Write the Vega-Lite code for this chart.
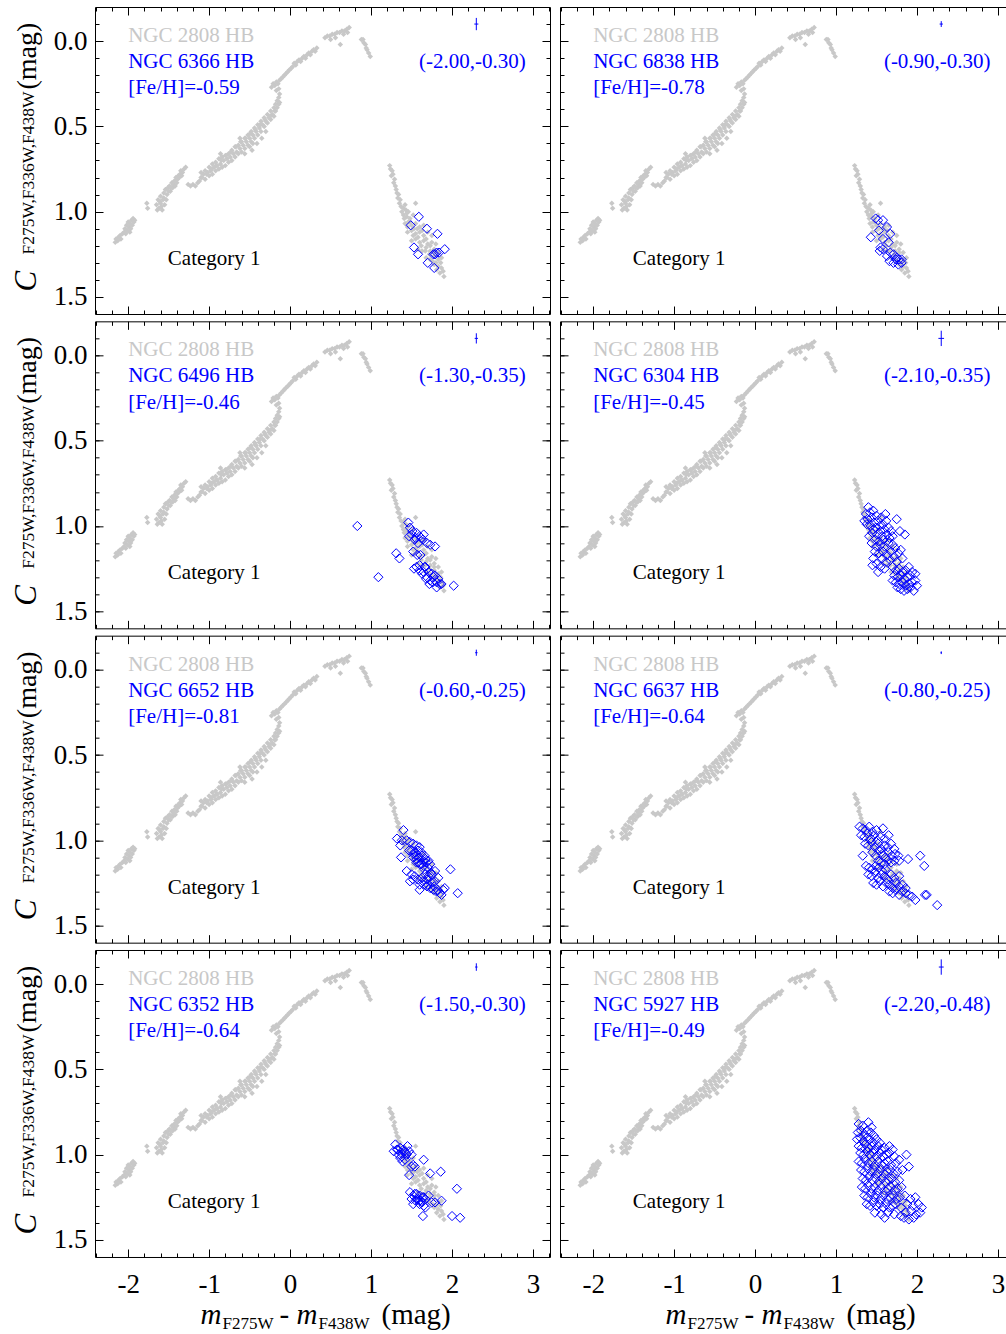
{
"$schema":"https://vega.github.io/schema/vega-lite/v6.json",
"background":"white",
"autosize":{"type":"pad"},
"padding":{"left":10,"top":6,"right":0,"bottom":0},
"columns":2,
"spacing":{"row":5.33,"column":8},
"align":"each",
"datasets":{
"hb2808":[
{"x":-2.16,"y":1.18},{"x":-2.15,"y":1.16},{"x":-2.13,"y":1.17},{"x":-2.12,"y":1.15},{"x":-2.10,"y":1.14},{"x":-2.09,"y":1.16},{"x":-2.07,"y":1.13},{"x":-2.05,"y":1.12},{"x":-2.04,"y":1.10},{"x":-2.03,"y":1.13},{"x":-2.02,"y":1.08},{"x":-2.01,"y":1.11},{"x":-2.00,"y":1.06},{"x":-1.99,"y":1.09},{"x":-1.98,"y":1.07},{"x":-1.97,"y":1.10},{"x":-1.96,"y":1.05},{"x":-1.95,"y":1.08},{"x":-1.94,"y":1.04},{"x":-1.93,"y":1.06},{"x":-1.92,"y":1.05},{"x":-1.98,"y":1.12},
{"x":-1.77,"y":0.95},{"x":-1.76,"y":0.98},
{"x":-1.65,"y":0.96},{"x":-1.63,"y":0.93},{"x":-1.62,"y":0.98},{"x":-1.60,"y":0.95},{"x":-1.60,"y":0.91},{"x":-1.58,"y":0.99},{"x":-1.57,"y":0.93},{"x":-1.56,"y":0.89},{"x":-1.55,"y":0.96},{"x":-1.54,"y":0.87},{"x":-1.52,"y":0.90},{"x":-1.51,"y":0.86},{"x":-1.49,"y":0.85},{"x":-1.48,"y":0.88},{"x":-1.46,"y":0.83},{"x":-1.45,"y":0.86},{"x":-1.43,"y":0.82},{"x":-1.41,"y":0.80},{"x":-1.40,"y":0.83},{"x":-1.38,"y":0.79},{"x":-1.36,"y":0.78},{"x":-1.35,"y":0.76},{"x":-1.33,"y":0.77},{"x":-1.31,"y":0.75},{"x":-1.29,"y":0.74},
{"x":-1.64,"y":0.99},{"x":-1.61,"y":0.94},{"x":-1.59,"y":0.97},{"x":-1.56,"y":0.92},{"x":-1.53,"y":0.93},{"x":-1.50,"y":0.88},{"x":-1.47,"y":0.86},{"x":-1.44,"y":0.84},{"x":-1.42,"y":0.85},{"x":-1.39,"y":0.81},{"x":-1.37,"y":0.80},{"x":-1.34,"y":0.79},
{"x":-1.26,"y":0.84},{"x":-1.23,"y":0.85},{"x":-1.20,"y":0.84},{"x":-1.17,"y":0.85},{"x":-1.14,"y":0.83},{"x":-1.12,"y":0.82},
{"x":-1.10,"y":0.80},{"x":-1.10,"y":0.77},{"x":-1.07,"y":0.78},{"x":-1.05,"y":0.81},{"x":-1.05,"y":0.76},{"x":-1.02,"y":0.77},{"x":-1.00,"y":0.79},{"x":-1.00,"y":0.74},{"x":-0.98,"y":0.76},{"x":-0.96,"y":0.72},{"x":-0.96,"y":0.78},{"x":-0.94,"y":0.74},{"x":-0.92,"y":0.71},{"x":-0.92,"y":0.76},{"x":-0.90,"y":0.73},{"x":-0.88,"y":0.69},{"x":-0.88,"y":0.75},{"x":-0.86,"y":0.72},{"x":-0.84,"y":0.68},{"x":-0.84,"y":0.74},{"x":-0.82,"y":0.70},{"x":-0.80,"y":0.67},{"x":-0.80,"y":0.73},{"x":-0.78,"y":0.69},{"x":-0.76,"y":0.66},{"x":-0.76,"y":0.71},{"x":-0.74,"y":0.68},{"x":-0.72,"y":0.64},{"x":-0.72,"y":0.70},{"x":-0.70,"y":0.66},{"x":-0.68,"y":0.62},{"x":-0.68,"y":0.68},{"x":-0.66,"y":0.65},{"x":-0.64,"y":0.61},{"x":-0.64,"y":0.66},{"x":-0.62,"y":0.63},{"x":-0.60,"y":0.59},{"x":-0.60,"y":0.65},{"x":-0.58,"y":0.61},{"x":-0.56,"y":0.57},{"x":-0.56,"y":0.63},{"x":-0.56,"y":0.66},{"x":-0.54,"y":0.59},{"x":-0.52,"y":0.55},{"x":-0.52,"y":0.61},{"x":-0.50,"y":0.57},{"x":-0.50,"y":0.62},{"x":-0.48,"y":0.53},{"x":-0.48,"y":0.59},{"x":-0.46,"y":0.55},{"x":-0.46,"y":0.60},{"x":-0.44,"y":0.51},{"x":-0.44,"y":0.57},{"x":-0.42,"y":0.53},{"x":-0.40,"y":0.49},{"x":-0.40,"y":0.55},{"x":-0.38,"y":0.51},{"x":-0.36,"y":0.47},{"x":-0.36,"y":0.53},{"x":-0.34,"y":0.49},{"x":-0.32,"y":0.45},{"x":-0.32,"y":0.50},{"x":-0.30,"y":0.47},{"x":-0.28,"y":0.43},{"x":-0.28,"y":0.48},{"x":-0.26,"y":0.45},{"x":-0.24,"y":0.41},{"x":-0.24,"y":0.46},{"x":-0.22,"y":0.43},{"x":-0.20,"y":0.39},{"x":-0.20,"y":0.44},{"x":-0.18,"y":0.41},{"x":-0.18,"y":0.37},{"x":-0.16,"y":0.39},{"x":-0.16,"y":0.35},{"x":-0.14,"y":0.37},{"x":-0.14,"y":0.33},{"x":-0.13,"y":0.31},{"x":-0.13,"y":0.36},
{"x":-1.09,"y":0.80},{"x":-1.03,"y":0.78},{"x":-0.97,"y":0.75},{"x":-0.91,"y":0.73},{"x":-0.85,"y":0.70},{"x":-0.79,"y":0.67},{"x":-0.73,"y":0.65},{"x":-0.67,"y":0.62},{"x":-0.61,"y":0.59},{"x":-0.55,"y":0.57},{"x":-0.49,"y":0.54},{"x":-0.43,"y":0.52},{"x":-0.37,"y":0.49},{"x":-0.31,"y":0.46},{"x":-0.25,"y":0.44},{"x":-0.19,"y":0.41},
{"x":-0.47,"y":0.64},{"x":-0.41,"y":0.60},{"x":-0.35,"y":0.57},{"x":-0.30,"y":0.53},{"x":-0.62,"y":0.57},{"x":-0.86,"y":0.66},
{"x":-0.17,"y":0.29},{"x":-0.14,"y":0.28},
{"x":-0.23,"y":0.27},{"x":-0.21,"y":0.25},{"x":-0.19,"y":0.26},{"x":-0.17,"y":0.24},{"x":-0.15,"y":0.25},{"x":-0.13,"y":0.23},{"x":-0.11,"y":0.22},{"x":-0.09,"y":0.21},{"x":-0.07,"y":0.20},{"x":-0.05,"y":0.19},{"x":-0.03,"y":0.18},{"x":-0.01,"y":0.17},{"x":0.01,"y":0.16},{"x":0.03,"y":0.15},{"x":0.05,"y":0.13},{"x":0.07,"y":0.14},{"x":0.09,"y":0.12},{"x":0.11,"y":0.11},{"x":0.13,"y":0.12},{"x":0.15,"y":0.10},{"x":0.17,"y":0.09},{"x":0.19,"y":0.10},{"x":0.21,"y":0.08},{"x":0.23,"y":0.07},{"x":0.25,"y":0.08},{"x":0.27,"y":0.06},{"x":0.29,"y":0.05},{"x":0.31,"y":0.06},{"x":0.33,"y":0.04},
{"x":0.43,"y":-0.02},{"x":0.46,"y":-0.03},{"x":0.49,"y":-0.03},{"x":0.52,"y":-0.04},{"x":0.55,"y":-0.04},{"x":0.58,"y":-0.05},{"x":0.61,"y":-0.05},{"x":0.64,"y":-0.06},{"x":0.67,"y":-0.06},{"x":0.70,"y":-0.07},{"x":0.73,"y":-0.08},{"x":0.50,"y":-0.01},{"x":0.56,"y":-0.02},{"x":0.62,"y":0.02},{"x":0.66,"y":-0.04},{"x":0.71,"y":-0.05},
{"x":0.88,"y":-0.01},{"x":0.90,"y":-0.01},{"x":0.91,"y":0.01},{"x":0.93,"y":0.02},{"x":0.94,"y":0.04},{"x":0.95,"y":0.05},{"x":0.99,"y":0.09},{"x":0.97,"y":0.07},
{"x":1.23,"y":0.73},{"x":1.24,"y":0.75},{"x":1.26,"y":0.76},{"x":1.27,"y":0.78},{"x":1.29,"y":0.81},{"x":1.30,"y":0.85},{"x":1.32,"y":0.89},{"x":1.33,"y":0.92},{"x":1.35,"y":0.95},{"x":1.37,"y":0.97},{"x":1.42,"y":0.96},{"x":1.38,"y":1.00},
{"x":1.40,"y":0.98},{"x":1.43,"y":0.99},{"x":1.46,"y":1.00},{"x":1.55,"y":0.95},{"x":1.40,"y":1.02},{"x":1.44,"y":1.03},{"x":1.48,"y":1.04},{"x":1.52,"y":1.02},{"x":1.42,"y":1.07},{"x":1.46,"y":1.06},{"x":1.50,"y":1.08},{"x":1.55,"y":1.07},{"x":1.60,"y":1.09},{"x":1.65,"y":1.08},{"x":1.45,"y":1.12},{"x":1.50,"y":1.11},{"x":1.55,"y":1.13},{"x":1.60,"y":1.12},{"x":1.65,"y":1.14},{"x":1.70,"y":1.12},{"x":1.75,"y":1.14},{"x":1.50,"y":1.17},{"x":1.55,"y":1.16},{"x":1.60,"y":1.18},{"x":1.65,"y":1.17},{"x":1.70,"y":1.19},{"x":1.75,"y":1.18},{"x":1.80,"y":1.19},{"x":1.58,"y":1.22},{"x":1.63,"y":1.23},{"x":1.68,"y":1.21},{"x":1.73,"y":1.23},{"x":1.78,"y":1.22},{"x":1.83,"y":1.24},{"x":1.68,"y":1.27},{"x":1.73,"y":1.28},{"x":1.78,"y":1.26},{"x":1.83,"y":1.28},{"x":1.87,"y":1.27},{"x":1.78,"y":1.31},{"x":1.83,"y":1.32},{"x":1.87,"y":1.33},{"x":1.85,"y":1.36},{"x":1.89,"y":1.35},
{"x":1.45,"y":1.09},{"x":1.52,"y":1.14},{"x":1.58,"y":1.15},{"x":1.62,"y":1.20},{"x":1.67,"y":1.23},{"x":1.72,"y":1.25},{"x":1.76,"y":1.29},{"x":1.80,"y":1.30},{"x":1.48,"y":1.06},{"x":1.53,"y":1.10},{"x":1.57,"y":1.10},{"x":1.63,"y":1.11},{"x":1.68,"y":1.16},{"x":1.73,"y":1.20},{"x":1.78,"y":1.24},{"x":1.81,"y":1.34},{"x":1.86,"y":1.30},{"x":1.90,"y":1.38},{"x":1.34,"y":0.90},{"x":1.36,"y":0.93},{"x":1.31,"y":0.87},{"x":1.28,"y":0.83},{"x":1.25,"y":0.79},{"x":1.41,"y":1.04},{"x":1.44,"y":1.01}
],
"blue":[
{"p":1,"x":1.59,"y":1.03},{"p":1,"x":1.49,"y":1.08},{"p":1,"x":1.69,"y":1.10},{"p":1,"x":1.82,"y":1.13},{"p":1,"x":1.53,"y":1.21},{"p":1,"x":1.58,"y":1.25},{"p":1,"x":1.77,"y":1.25},{"p":1,"x":1.81,"y":1.24},{"p":1,"x":1.84,"y":1.24},{"p":1,"x":1.91,"y":1.22},{"p":1,"x":1.70,"y":1.30},{"p":1,"x":1.78,"y":1.33},{"p":1,"x":1.79,"y":1.25},
{"p":2,"x":1.49,"y":1.04},{"p":2,"x":1.52,"y":1.05},{"p":2,"x":1.58,"y":1.05},{"p":2,"x":1.53,"y":1.11},{"p":2,"x":1.63,"y":1.09},{"p":2,"x":1.67,"y":1.13},{"p":2,"x":1.43,"y":1.15},{"p":2,"x":1.58,"y":1.16},{"p":2,"x":1.65,"y":1.18},{"p":2,"x":1.55,"y":1.21},{"p":2,"x":1.58,"y":1.22},{"p":2,"x":1.54,"y":1.23},{"p":2,"x":1.67,"y":1.24},{"p":2,"x":1.63,"y":1.26},{"p":2,"x":1.71,"y":1.25},{"p":2,"x":1.75,"y":1.27},{"p":2,"x":1.78,"y":1.28},{"p":2,"x":1.81,"y":1.28},{"p":2,"x":1.66,"y":1.29},{"p":2,"x":1.71,"y":1.30},{"p":2,"x":1.77,"y":1.31},{"p":2,"x":1.81,"y":1.30},{"p":2,"x":1.74,"y":1.28},
{"p":3,"x":0.83,"y":1.00},{"p":3,"x":1.46,"y":0.98},{"p":3,"x":1.48,"y":1.01},{"p":3,"x":1.51,"y":1.03},{"p":3,"x":1.47,"y":1.06},{"p":3,"x":1.56,"y":1.04},{"p":3,"x":1.60,"y":1.06},{"p":3,"x":1.65,"y":1.05},{"p":3,"x":1.54,"y":1.08},{"p":3,"x":1.58,"y":1.10},{"p":3,"x":1.64,"y":1.08},{"p":3,"x":1.69,"y":1.10},{"p":3,"x":1.73,"y":1.11},{"p":3,"x":1.79,"y":1.12},{"p":3,"x":1.31,"y":1.16},{"p":3,"x":1.35,"y":1.19},{"p":3,"x":1.52,"y":1.15},{"p":3,"x":1.57,"y":1.17},{"p":3,"x":1.61,"y":1.17},{"p":3,"x":1.56,"y":1.24},{"p":3,"x":1.60,"y":1.26},{"p":3,"x":1.65,"y":1.27},{"p":3,"x":1.71,"y":1.27},{"p":3,"x":1.75,"y":1.28},{"p":3,"x":1.79,"y":1.29},{"p":3,"x":1.83,"y":1.31},{"p":3,"x":1.69,"y":1.30},{"p":3,"x":1.73,"y":1.32},{"p":3,"x":1.81,"y":1.33},{"p":3,"x":1.85,"y":1.34},{"p":3,"x":1.09,"y":1.30},{"p":3,"x":1.72,"y":1.34},{"p":3,"x":2.02,"y":1.35},{"p":3,"x":1.60,"y":1.23},{"p":3,"x":1.67,"y":1.24},{"p":3,"x":1.77,"y":1.30},{"p":3,"x":1.81,"y":1.36},{"p":3,"x":1.87,"y":1.34},{"p":3,"x":1.50,"y":1.05},{"p":3,"x":1.55,"y":1.07},{"p":3,"x":1.62,"y":1.07},{"p":3,"x":1.53,"y":1.25},{"p":3,"x":1.63,"y":1.28},{"p":3,"x":1.68,"y":1.31},{"p":3,"x":1.76,"y":1.33},{"p":3,"x":1.66,"y":1.24},
{"p":4,"x":1.37,"y":0.93},{"p":4,"x":1.40,"y":0.89},{"p":4,"x":1.42,"y":0.92},{"p":4,"x":1.39,"y":0.96},{"p":4,"x":1.44,"y":0.95},{"p":4,"x":1.46,"y":0.91},{"p":4,"x":1.47,"y":0.98},{"p":4,"x":1.43,"y":1.00},{"p":4,"x":1.50,"y":0.94},{"p":4,"x":1.52,"y":0.97},{"p":4,"x":1.49,"y":1.01},{"p":4,"x":1.54,"y":1.00},{"p":4,"x":1.56,"y":0.95},{"p":4,"x":1.58,"y":0.99},{"p":4,"x":1.45,"y":1.04},{"p":4,"x":1.51,"y":1.05},{"p":4,"x":1.55,"y":1.03},{"p":4,"x":1.60,"y":1.02},{"p":4,"x":1.62,"y":0.97},{"p":4,"x":1.57,"y":1.06},{"p":4,"x":1.63,"y":1.05},{"p":4,"x":1.65,"y":1.01},{"p":4,"x":1.41,"y":1.06},{"p":4,"x":1.48,"y":1.08},{"p":4,"x":1.53,"y":1.09},{"p":4,"x":1.59,"y":1.08},{"p":4,"x":1.66,"y":1.07},{"p":4,"x":1.68,"y":1.03},{"p":4,"x":1.70,"y":1.06},{"p":4,"x":1.75,"y":0.96},{"p":4,"x":1.85,"y":1.05},{"p":4,"x":1.79,"y":1.03},{"p":4,"x":1.38,"y":0.99},{"p":4,"x":1.46,"y":1.02},{"p":4,"x":1.61,"y":0.93},{"p":4,"x":1.35,"y":0.97},
{"p":4,"x":1.44,"y":1.10},{"p":4,"x":1.50,"y":1.12},{"p":4,"x":1.55,"y":1.11},{"p":4,"x":1.60,"y":1.12},{"p":4,"x":1.65,"y":1.10},{"p":4,"x":1.70,"y":1.11},{"p":4,"x":1.73,"y":1.13},{"p":4,"x":1.48,"y":1.15},{"p":4,"x":1.53,"y":1.16},{"p":4,"x":1.58,"y":1.15},{"p":4,"x":1.63,"y":1.17},{"p":4,"x":1.68,"y":1.15},{"p":4,"x":1.72,"y":1.18},{"p":4,"x":1.77,"y":1.16},{"p":4,"x":1.82,"y":1.19},{"p":4,"x":1.57,"y":1.19},{"p":4,"x":1.62,"y":1.21},{"p":4,"x":1.67,"y":1.20},{"p":4,"x":1.75,"y":1.21},{"p":4,"x":1.80,"y":1.14},{"p":4,"x":1.46,"y":1.19},{"p":4,"x":1.50,"y":1.22},{"p":4,"x":1.55,"y":1.24},{"p":4,"x":1.60,"y":1.25},{"p":4,"x":1.52,"y":1.27},{"p":4,"x":1.45,"y":1.23},
{"p":4,"x":1.70,"y":1.24},{"p":4,"x":1.74,"y":1.26},{"p":4,"x":1.78,"y":1.25},{"p":4,"x":1.82,"y":1.27},{"p":4,"x":1.86,"y":1.26},{"p":4,"x":1.72,"y":1.29},{"p":4,"x":1.76,"y":1.30},{"p":4,"x":1.80,"y":1.29},{"p":4,"x":1.84,"y":1.31},{"p":4,"x":1.88,"y":1.30},{"p":4,"x":1.92,"y":1.29},{"p":4,"x":1.74,"y":1.33},{"p":4,"x":1.78,"y":1.34},{"p":4,"x":1.82,"y":1.33},{"p":4,"x":1.86,"y":1.35},{"p":4,"x":1.90,"y":1.34},{"p":4,"x":1.94,"y":1.33},{"p":4,"x":1.98,"y":1.32},{"p":4,"x":1.80,"y":1.37},{"p":4,"x":1.84,"y":1.38},{"p":4,"x":1.88,"y":1.37},{"p":4,"x":1.92,"y":1.36},{"p":4,"x":1.96,"y":1.38},{"p":4,"x":2.00,"y":1.35},{"p":4,"x":1.70,"y":1.32},{"p":4,"x":1.76,"y":1.36},{"p":4,"x":1.90,"y":1.24},{"p":4,"x":1.94,"y":1.27},{"p":4,"x":1.98,"y":1.28},
{"p":5,"x":1.40,"y":0.94},{"p":5,"x":1.32,"y":0.99},{"p":5,"x":1.38,"y":1.00},{"p":5,"x":1.36,"y":1.03},{"p":5,"x":1.44,"y":1.00},{"p":5,"x":1.48,"y":1.01},{"p":5,"x":1.52,"y":1.02},{"p":5,"x":1.56,"y":1.03},{"p":5,"x":1.60,"y":1.04},{"p":5,"x":1.37,"y":1.10},{"p":5,"x":1.47,"y":1.06},{"p":5,"x":1.52,"y":1.08},{"p":5,"x":1.56,"y":1.09},{"p":5,"x":1.63,"y":1.09},{"p":5,"x":1.67,"y":1.11},{"p":5,"x":1.71,"y":1.12},{"p":5,"x":1.56,"y":1.13},{"p":5,"x":1.60,"y":1.14},{"p":5,"x":1.65,"y":1.15},{"p":5,"x":1.73,"y":1.14},{"p":5,"x":1.98,"y":1.17},{"p":5,"x":1.44,"y":1.18},{"p":5,"x":1.50,"y":1.20},{"p":5,"x":1.54,"y":1.21},{"p":5,"x":1.58,"y":1.23},{"p":5,"x":1.63,"y":1.22},{"p":5,"x":1.67,"y":1.20},{"p":5,"x":1.71,"y":1.21},{"p":5,"x":1.75,"y":1.20},{"p":5,"x":1.79,"y":1.18},{"p":5,"x":1.83,"y":1.22},{"p":5,"x":1.48,"y":1.24},{"p":5,"x":1.52,"y":1.23},{"p":5,"x":1.60,"y":1.26},{"p":5,"x":1.65,"y":1.26},{"p":5,"x":1.69,"y":1.27},{"p":5,"x":1.73,"y":1.28},{"p":5,"x":1.77,"y":1.29},{"p":5,"x":1.81,"y":1.30},{"p":5,"x":1.85,"y":1.31},{"p":5,"x":1.89,"y":1.29},{"p":5,"x":1.91,"y":1.28},{"p":5,"x":2.07,"y":1.31},{"p":5,"x":1.87,"y":1.32},{"p":5,"x":1.75,"y":1.25},{"p":5,"x":1.79,"y":1.24},{"p":5,"x":1.69,"y":1.23},{"p":5,"x":1.50,"y":1.06},{"p":5,"x":1.54,"y":1.07},{"p":5,"x":1.58,"y":1.06},{"p":5,"x":1.62,"y":1.07},{"p":5,"x":1.66,"y":1.09},{"p":5,"x":1.52,"y":1.10},{"p":5,"x":1.56,"y":1.11},{"p":5,"x":1.60,"y":1.10},{"p":5,"x":1.64,"y":1.12},{"p":5,"x":1.68,"y":1.13},{"p":5,"x":1.62,"y":1.14},{"p":5,"x":1.58,"y":1.13},{"p":5,"x":1.70,"y":1.16},{"p":5,"x":1.66,"y":1.17},{"p":5,"x":1.74,"y":1.19},{"p":5,"x":1.60,"y":1.29},{"p":5,"x":1.64,"y":1.24},{"p":5,"x":1.70,"y":1.26},{"p":5,"x":1.78,"y":1.27},{"p":5,"x":1.82,"y":1.29},
{"p":6,"x":1.29,"y":0.92},{"p":6,"x":1.33,"y":0.93},{"p":6,"x":1.37,"y":0.94},{"p":6,"x":1.41,"y":0.92},{"p":6,"x":1.45,"y":0.95},{"p":6,"x":1.50,"y":0.94},{"p":6,"x":1.58,"y":0.93},{"p":6,"x":1.31,"y":0.97},{"p":6,"x":1.35,"y":0.98},{"p":6,"x":1.39,"y":0.96},{"p":6,"x":1.43,"y":0.99},{"p":6,"x":1.47,"y":0.97},{"p":6,"x":1.51,"y":1.00},{"p":6,"x":1.55,"y":0.98},{"p":6,"x":1.60,"y":0.99},{"p":6,"x":1.65,"y":0.97},{"p":6,"x":1.36,"y":1.02},{"p":6,"x":1.40,"y":1.03},{"p":6,"x":1.44,"y":1.01},{"p":6,"x":1.48,"y":1.04},{"p":6,"x":1.52,"y":1.02},{"p":6,"x":1.56,"y":1.05},{"p":6,"x":1.60,"y":1.03},{"p":6,"x":1.64,"y":1.04},{"p":6,"x":1.68,"y":1.02},{"p":6,"x":1.72,"y":1.05},{"p":6,"x":1.33,"y":1.09},{"p":6,"x":1.45,"y":1.07},{"p":6,"x":1.49,"y":1.09},{"p":6,"x":1.53,"y":1.06},{"p":6,"x":1.57,"y":1.08},{"p":6,"x":1.61,"y":1.10},{"p":6,"x":1.65,"y":1.07},{"p":6,"x":1.69,"y":1.09},{"p":6,"x":1.73,"y":1.08},{"p":6,"x":1.77,"y":1.09},{"p":6,"x":1.89,"y":1.11},{"p":6,"x":2.04,"y":1.09},{"p":6,"x":1.52,"y":1.12},{"p":6,"x":1.56,"y":1.13},{"p":6,"x":1.60,"y":1.14},{"p":6,"x":1.64,"y":1.12},{"p":6,"x":1.68,"y":1.13},{"p":6,"x":1.72,"y":1.12},{"p":6,"x":1.78,"y":1.12},{"p":6,"x":2.09,"y":1.15},
{"p":6,"x":1.37,"y":1.15},{"p":6,"x":1.41,"y":1.16},{"p":6,"x":1.45,"y":1.17},{"p":6,"x":1.49,"y":1.15},{"p":6,"x":1.53,"y":1.16},{"p":6,"x":1.57,"y":1.18},{"p":6,"x":1.61,"y":1.17},{"p":6,"x":1.40,"y":1.20},{"p":6,"x":1.44,"y":1.21},{"p":6,"x":1.48,"y":1.19},{"p":6,"x":1.52,"y":1.22},{"p":6,"x":1.56,"y":1.20},{"p":6,"x":1.60,"y":1.21},{"p":6,"x":1.64,"y":1.23},{"p":6,"x":1.68,"y":1.20},{"p":6,"x":1.72,"y":1.22},{"p":6,"x":1.78,"y":1.21},{"p":6,"x":1.46,"y":1.25},{"p":6,"x":1.50,"y":1.26},{"p":6,"x":1.54,"y":1.24},{"p":6,"x":1.58,"y":1.27},{"p":6,"x":1.62,"y":1.25},{"p":6,"x":1.66,"y":1.26},{"p":6,"x":1.70,"y":1.28},{"p":6,"x":1.74,"y":1.25},{"p":6,"x":1.78,"y":1.27},{"p":6,"x":1.82,"y":1.26},{"p":6,"x":1.86,"y":1.28},{"p":6,"x":1.66,"y":1.30},{"p":6,"x":1.70,"y":1.31},{"p":6,"x":1.74,"y":1.29},{"p":6,"x":1.78,"y":1.32},{"p":6,"x":1.82,"y":1.30},{"p":6,"x":1.86,"y":1.31},{"p":6,"x":1.90,"y":1.32},{"p":6,"x":1.94,"y":1.33},{"p":6,"x":2.10,"y":1.32},{"p":6,"x":2.12,"y":1.32},{"p":6,"x":2.25,"y":1.38},{"p":6,"x":1.98,"y":1.35},
{"p":7,"x":1.30,"y":0.94},{"p":7,"x":1.32,"y":0.97},{"p":7,"x":1.28,"y":0.98},{"p":7,"x":1.36,"y":0.96},{"p":7,"x":1.40,"y":0.97},{"p":7,"x":1.45,"y":0.95},{"p":7,"x":1.34,"y":1.00},{"p":7,"x":1.38,"y":1.01},{"p":7,"x":1.43,"y":0.99},{"p":7,"x":1.47,"y":0.98},{"p":7,"x":1.50,"y":1.00},{"p":7,"x":1.39,"y":1.04},{"p":7,"x":1.52,"y":1.06},{"p":7,"x":1.54,"y":1.07},{"p":7,"x":1.50,"y":1.07},{"p":7,"x":1.65,"y":1.03},{"p":7,"x":1.47,"y":1.12},{"p":7,"x":1.73,"y":1.11},{"p":7,"x":1.86,"y":1.10},{"p":7,"x":2.06,"y":1.20},{"p":7,"x":1.48,"y":1.22},{"p":7,"x":1.52,"y":1.24},{"p":7,"x":1.50,"y":1.26},{"p":7,"x":1.56,"y":1.23},{"p":7,"x":1.60,"y":1.24},{"p":7,"x":1.65,"y":1.25},{"p":7,"x":1.60,"y":1.27},{"p":7,"x":1.63,"y":1.28},{"p":7,"x":1.67,"y":1.26},{"p":7,"x":1.71,"y":1.24},{"p":7,"x":1.75,"y":1.28},{"p":7,"x":1.79,"y":1.28},{"p":7,"x":1.87,"y":1.27},{"p":7,"x":1.52,"y":1.29},{"p":7,"x":1.67,"y":1.31},{"p":7,"x":1.64,"y":1.36},{"p":7,"x":2.00,"y":1.36},{"p":7,"x":2.10,"y":1.37},{"p":7,"x":1.56,"y":1.26},{"p":7,"x":1.65,"y":1.30},{"p":7,"x":1.33,"y":0.97},{"p":7,"x":1.37,"y":0.99},{"p":7,"x":1.41,"y":0.98},{"p":7,"x":1.44,"y":1.00},{"p":7,"x":1.36,"y":1.02},{"p":7,"x":1.42,"y":1.03},{"p":7,"x":1.54,"y":1.23},{"p":7,"x":1.58,"y":1.26},{"p":7,"x":1.62,"y":1.27},{"p":7,"x":1.55,"y":1.27},{"p":7,"x":1.60,"y":1.29},{"p":7,"x":1.64,"y":1.25},
{"p":8,"x":1.28,"y":0.82},{"p":8,"x":1.33,"y":0.83},{"p":8,"x":1.40,"y":0.81},{"p":8,"x":1.44,"y":0.84},{"p":8,"x":1.27,"y":0.87},{"p":8,"x":1.31,"y":0.86},{"p":8,"x":1.35,"y":0.88},{"p":8,"x":1.39,"y":0.86},{"p":8,"x":1.43,"y":0.87},{"p":8,"x":1.47,"y":0.89},{"p":8,"x":1.26,"y":0.91},{"p":8,"x":1.30,"y":0.90},{"p":8,"x":1.34,"y":0.92},{"p":8,"x":1.38,"y":0.90},{"p":8,"x":1.42,"y":0.91},{"p":8,"x":1.46,"y":0.93},{"p":8,"x":1.50,"y":0.91},{"p":8,"x":1.54,"y":0.93},{"p":8,"x":1.28,"y":0.95},{"p":8,"x":1.32,"y":0.96},{"p":8,"x":1.36,"y":0.94},{"p":8,"x":1.40,"y":0.96},{"p":8,"x":1.44,"y":0.95},{"p":8,"x":1.48,"y":0.97},{"p":8,"x":1.52,"y":0.95},{"p":8,"x":1.56,"y":0.97},{"p":8,"x":1.60,"y":0.96},{"p":8,"x":1.66,"y":0.95},{"p":8,"x":1.70,"y":0.97},{"p":8,"x":1.30,"y":0.99},{"p":8,"x":1.34,"y":1.00},{"p":8,"x":1.38,"y":0.98},{"p":8,"x":1.42,"y":1.00},{"p":8,"x":1.46,"y":0.99},{"p":8,"x":1.50,"y":1.01},{"p":8,"x":1.54,"y":0.99},{"p":8,"x":1.58,"y":1.01},{"p":8,"x":1.62,"y":1.00},{"p":8,"x":1.66,"y":0.99},{"p":8,"x":1.72,"y":1.01},{"p":8,"x":1.87,"y":1.00},{"p":8,"x":1.28,"y":1.04},{"p":8,"x":1.32,"y":1.05},{"p":8,"x":1.36,"y":1.03},{"p":8,"x":1.40,"y":1.05},{"p":8,"x":1.44,"y":1.04},{"p":8,"x":1.48,"y":1.06},{"p":8,"x":1.52,"y":1.04},{"p":8,"x":1.56,"y":1.06},{"p":8,"x":1.60,"y":1.05},{"p":8,"x":1.64,"y":1.04},{"p":8,"x":1.68,"y":1.06},{"p":8,"x":1.74,"y":1.05},{"p":8,"x":1.78,"y":1.03},{"p":8,"x":1.90,"y":1.07},{"p":8,"x":1.31,"y":1.09},{"p":8,"x":1.35,"y":1.10},{"p":8,"x":1.39,"y":1.08},{"p":8,"x":1.43,"y":1.10},{"p":8,"x":1.47,"y":1.09},{"p":8,"x":1.51,"y":1.11},{"p":8,"x":1.55,"y":1.09},{"p":8,"x":1.59,"y":1.11},{"p":8,"x":1.63,"y":1.10},{"p":8,"x":1.67,"y":1.09},{"p":8,"x":1.71,"y":1.11},{"p":8,"x":1.76,"y":1.10},{"p":8,"x":1.82,"y":1.09},{"p":8,"x":1.33,"y":1.14},{"p":8,"x":1.37,"y":1.15},{"p":8,"x":1.41,"y":1.13},{"p":8,"x":1.45,"y":1.15},{"p":8,"x":1.49,"y":1.14},{"p":8,"x":1.53,"y":1.16},{"p":8,"x":1.57,"y":1.14},{"p":8,"x":1.61,"y":1.16},{"p":8,"x":1.65,"y":1.15},{"p":8,"x":1.69,"y":1.14},{"p":8,"x":1.73,"y":1.16},{"p":8,"x":1.78,"y":1.15},{"p":8,"x":1.32,"y":1.19},{"p":8,"x":1.36,"y":1.20},{"p":8,"x":1.40,"y":1.18},{"p":8,"x":1.44,"y":1.20},{"p":8,"x":1.48,"y":1.19},{"p":8,"x":1.52,"y":1.21},{"p":8,"x":1.56,"y":1.19},{"p":8,"x":1.60,"y":1.21},{"p":8,"x":1.64,"y":1.20},{"p":8,"x":1.68,"y":1.19},{"p":8,"x":1.72,"y":1.21},{"p":8,"x":1.76,"y":1.20},{"p":8,"x":1.81,"y":1.19},{"p":8,"x":1.35,"y":1.24},{"p":8,"x":1.39,"y":1.25},{"p":8,"x":1.43,"y":1.23},{"p":8,"x":1.47,"y":1.25},{"p":8,"x":1.51,"y":1.24},{"p":8,"x":1.55,"y":1.26},{"p":8,"x":1.59,"y":1.24},{"p":8,"x":1.63,"y":1.26},{"p":8,"x":1.67,"y":1.25},{"p":8,"x":1.71,"y":1.24},{"p":8,"x":1.75,"y":1.26},{"p":8,"x":1.79,"y":1.25},{"p":8,"x":1.85,"y":1.24},{"p":8,"x":1.92,"y":1.26},{"p":8,"x":1.98,"y":1.25},{"p":8,"x":1.38,"y":1.29},{"p":8,"x":1.42,"y":1.30},{"p":8,"x":1.46,"y":1.28},{"p":8,"x":1.50,"y":1.30},{"p":8,"x":1.54,"y":1.29},{"p":8,"x":1.58,"y":1.31},{"p":8,"x":1.62,"y":1.29},{"p":8,"x":1.66,"y":1.31},{"p":8,"x":1.70,"y":1.30},{"p":8,"x":1.74,"y":1.29},{"p":8,"x":1.80,"y":1.31},{"p":8,"x":1.88,"y":1.29},{"p":8,"x":1.95,"y":1.30},{"p":8,"x":2.02,"y":1.29},{"p":8,"x":2.06,"y":1.31},{"p":8,"x":1.48,"y":1.34},{"p":8,"x":1.56,"y":1.35},{"p":8,"x":1.64,"y":1.34},{"p":8,"x":1.72,"y":1.35},{"p":8,"x":1.80,"y":1.36},{"p":8,"x":1.86,"y":1.34},{"p":8,"x":1.93,"y":1.33},{"p":8,"x":1.99,"y":1.35},{"p":8,"x":2.04,"y":1.34},{"p":8,"x":1.60,"y":1.37},{"p":8,"x":1.84,"y":1.37},{"p":8,"x":1.90,"y":1.38},{"p":8,"x":1.96,"y":1.37}
],
"info":[
{"p":1,"ref":"NGC 2808 HB","name":"NGC 6366 HB","feh":"[Fe/H]=-0.59","shift":"(-2.00,-0.30)","cat":"Category 1"},
{"p":2,"ref":"NGC 2808 HB","name":"NGC 6838 HB","feh":"[Fe/H]=-0.78","shift":"(-0.90,-0.30)","cat":"Category 1"},
{"p":3,"ref":"NGC 2808 HB","name":"NGC 6496 HB","feh":"[Fe/H]=-0.46","shift":"(-1.30,-0.35)","cat":"Category 1"},
{"p":4,"ref":"NGC 2808 HB","name":"NGC 6304 HB","feh":"[Fe/H]=-0.45","shift":"(-2.10,-0.35)","cat":"Category 1"},
{"p":5,"ref":"NGC 2808 HB","name":"NGC 6652 HB","feh":"[Fe/H]=-0.81","shift":"(-0.60,-0.25)","cat":"Category 1"},
{"p":6,"ref":"NGC 2808 HB","name":"NGC 6637 HB","feh":"[Fe/H]=-0.64","shift":"(-0.80,-0.25)","cat":"Category 1"},
{"p":7,"ref":"NGC 2808 HB","name":"NGC 6352 HB","feh":"[Fe/H]=-0.64","shift":"(-1.50,-0.30)","cat":"Category 1"},
{"p":8,"ref":"NGC 2808 HB","name":"NGC 5927 HB","feh":"[Fe/H]=-0.49","shift":"(-2.20,-0.48)","cat":"Category 1"}
],
"err":[
{"p":1,"x":2.3,"y":-0.1,"x1":2.275,"x2":2.325,"y1":-0.136,"y2":-0.064},
{"p":2,"x":2.3,"y":-0.1,"x1":2.28,"x2":2.32,"y1":-0.117,"y2":-0.083},
{"p":3,"x":2.3,"y":-0.1,"x1":2.28,"x2":2.32,"y1":-0.13,"y2":-0.07},
{"p":4,"x":2.3,"y":-0.1,"x1":2.265,"x2":2.335,"y1":-0.145,"y2":-0.055},
{"p":5,"x":2.3,"y":-0.1,"x1":2.285,"x2":2.315,"y1":-0.118,"y2":-0.082},
{"p":6,"x":2.3,"y":-0.1,"x1":2.292,"x2":2.308,"y1":-0.108,"y2":-0.092},
{"p":7,"x":2.3,"y":-0.1,"x1":2.285,"x2":2.315,"y1":-0.122,"y2":-0.078},
{"p":8,"x":2.3,"y":-0.1,"x1":2.27,"x2":2.33,"y1":-0.145,"y2":-0.055}
]
},
"concat":[
{"width":455,"height":307,"resolve":{"axis":{"x":"independent","y":"independent"}},"layer":[
{"data":{"name":"hb2808"},"mark":{"type":"point","shape":"diamond","filled":true,"size":30,"color":"#c8c8c8","opacity":1},"encoding":{"x":{"field":"x","type":"quantitative","scale":{"domain":[-2.41,3.21],"nice":false,"zero":false},"axis":{"orient":"bottom","values":[-2,-1,0,1,2,3],"tickSize":-8,"labels":false,"title":null}},"y":{"field":"y","type":"quantitative","scale":{"domain":[-0.2,1.6],"nice":false,"zero":false,"reverse":true},"axis":{"orient":"left","values":[0,0.5,1,1.5],"tickSize":-8,"labels":true,"format":".1f","labelFontSize":27,"labelPadding":16,"title":"C","titleFontStyle":"italic","titleFontSize":31,"titleX":-60,"titleY":284,"titleAngle":270,"titleAlign":"left","titleBaseline":"alphabetic"}}}},
{"data":{"name":"blue"},"transform":[{"filter":"datum.p==1"}],"mark":{"type":"point","shape":"diamond","filled":false,"size":85,"color":"#0000ff","strokeWidth":1,"opacity":1},"encoding":{"x":{"field":"x","type":"quantitative","axis":{"orient":"top","values":[-2,-1,0,1,2,3],"tickSize":-8,"labels":false,"title":null}},"y":{"field":"y","type":"quantitative","axis":{"orient":"right","values":[0,0.5,1,1.5],"tickSize":-8,"labels":false,"title":null}}}},
{"data":{"name":"err"},"transform":[{"filter":"datum.p==1"}],"mark":{"type":"rule","color":"#0000ff","strokeWidth":1},"encoding":{"x":{"field":"x1","type":"quantitative","axis":{"orient":"bottom","values":[-2.4,-2.2,-2,-1.8,-1.6,-1.4,-1.2,-1,-0.8,-0.6,-0.4,-0.2,0,0.2,0.4,0.6,0.8,1,1.2,1.4,1.6,1.8,2,2.2,2.4,2.6,2.8,3,3.2],"tickSize":-4,"labels":false,"domain":false,"title":null}},"x2":{"field":"x2"},"y":{"field":"y","type":"quantitative","axis":{"orient":"left","values":[-0.1,0,0.1,0.2,0.3,0.4,0.5,0.6,0.7,0.8,0.9,1,1.1,1.2,1.3,1.4,1.5],"tickSize":-4,"labels":false,"domain":false,"title":"F275W,F336W,F438W","titleFontSize":17.5,"titleX":-62,"titleY":247,"titleAngle":270,"titleAlign":"left","titleBaseline":"alphabetic"}}}},
{"data":{"name":"err"},"transform":[{"filter":"datum.p==1"}],"mark":{"type":"rule","color":"#0000ff","strokeWidth":1},"encoding":{"x":{"field":"x","type":"quantitative","axis":{"orient":"top","values":[-2.4,-2.2,-2,-1.8,-1.6,-1.4,-1.2,-1,-0.8,-0.6,-0.4,-0.2,0,0.2,0.4,0.6,0.8,1,1.2,1.4,1.6,1.8,2,2.2,2.4,2.6,2.8,3,3.2],"tickSize":-4,"labels":false,"domain":false,"title":null}},"y":{"field":"y1","type":"quantitative","axis":{"orient":"right","values":[-0.1,0,0.1,0.2,0.3,0.4,0.5,0.6,0.7,0.8,0.9,1,1.1,1.2,1.3,1.4,1.5],"tickSize":-4,"labels":false,"domain":false,"title":null}},"y2":{"field":"y2"}}},
{"data":{"name":"info"},"transform":[{"filter":"datum.p==1"}],"mark":{"type":"text","align":"left","baseline":"middle","font":"Liberation Serif","fontSize":21,"color":"#c8c8c8"},"encoding":{"text":{"field":"ref"},"x":{"datum":-2,"type":"quantitative","axis":null},"y":{"datum":-0.029,"type":"quantitative","axis":{"orient":"left","ticks":false,"labels":false,"domain":false,"title":"(mag)","titleFontSize":28,"titleX":-60,"titleY":82,"titleAngle":270,"titleAlign":"left","titleBaseline":"alphabetic"}}}},
{"data":{"name":"info"},"transform":[{"filter":"datum.p==1"}],"mark":{"type":"text","align":"left","baseline":"middle","font":"Liberation Serif","fontSize":21,"color":"#0000ff"},"encoding":{"text":{"field":"name"},"x":{"datum":-2,"type":"quantitative","axis":null},"y":{"datum":0.123,"type":"quantitative","axis":null}}},
{"data":{"name":"info"},"transform":[{"filter":"datum.p==1"}],"mark":{"type":"text","align":"left","baseline":"middle","font":"Liberation Serif","fontSize":21,"color":"#0000ff"},"encoding":{"text":{"field":"feh"},"x":{"datum":-2,"type":"quantitative","axis":null},"y":{"datum":0.276,"type":"quantitative","axis":null}}},
{"data":{"name":"info"},"transform":[{"filter":"datum.p==1"}],"mark":{"type":"text","align":"right","baseline":"middle","font":"Liberation Serif","fontSize":21,"color":"#0000ff"},"encoding":{"text":{"field":"shift"},"x":{"datum":2.91,"type":"quantitative","axis":null},"y":{"datum":0.123,"type":"quantitative","axis":null}}},
{"data":{"name":"info"},"transform":[{"filter":"datum.p==1"}],"mark":{"type":"text","align":"left","baseline":"middle","font":"Liberation Serif","fontSize":21,"color":"black"},"encoding":{"text":{"field":"cat"},"x":{"datum":-1.51,"type":"quantitative","axis":null},"y":{"datum":1.278,"type":"quantitative","axis":null}}}
]},
{"width":446,"height":307,"resolve":{"axis":{"x":"independent","y":"independent"}},"layer":[
{"data":{"name":"hb2808"},"mark":{"type":"point","shape":"diamond","filled":true,"size":30,"color":"#c8c8c8","opacity":1},"encoding":{"x":{"field":"x","type":"quantitative","scale":{"domain":[-2.41,3.1],"nice":false,"zero":false},"axis":{"orient":"bottom","values":[-2,-1,0,1,2,3],"tickSize":-8,"labels":false,"title":null}},"y":{"field":"y","type":"quantitative","scale":{"domain":[-0.2,1.6],"nice":false,"zero":false,"reverse":true},"axis":{"orient":"left","values":[0,0.5,1,1.5],"tickSize":-8,"labels":false,"title":null}}}},
{"data":{"name":"blue"},"transform":[{"filter":"datum.p==2"}],"mark":{"type":"point","shape":"diamond","filled":false,"size":85,"color":"#0000ff","strokeWidth":1,"opacity":1},"encoding":{"x":{"field":"x","type":"quantitative","axis":{"orient":"top","values":[-2,-1,0,1,2,3],"tickSize":-8,"labels":false,"title":null}},"y":{"field":"y","type":"quantitative","axis":null}}},
{"data":{"name":"err"},"transform":[{"filter":"datum.p==2"}],"mark":{"type":"rule","color":"#0000ff","strokeWidth":1},"encoding":{"x":{"field":"x1","type":"quantitative","axis":{"orient":"bottom","values":[-2.4,-2.2,-2,-1.8,-1.6,-1.4,-1.2,-1,-0.8,-0.6,-0.4,-0.2,0,0.2,0.4,0.6,0.8,1,1.2,1.4,1.6,1.8,2,2.2,2.4,2.6,2.8,3],"tickSize":-4,"labels":false,"domain":false,"title":null}},"x2":{"field":"x2"},"y":{"field":"y","type":"quantitative","axis":{"orient":"left","values":[-0.1,0,0.1,0.2,0.3,0.4,0.5,0.6,0.7,0.8,0.9,1,1.1,1.2,1.3,1.4,1.5],"tickSize":-4,"labels":false,"domain":false,"title":null}}}},
{"data":{"name":"err"},"transform":[{"filter":"datum.p==2"}],"mark":{"type":"rule","color":"#0000ff","strokeWidth":1},"encoding":{"x":{"field":"x","type":"quantitative","axis":{"orient":"top","values":[-2.4,-2.2,-2,-1.8,-1.6,-1.4,-1.2,-1,-0.8,-0.6,-0.4,-0.2,0,0.2,0.4,0.6,0.8,1,1.2,1.4,1.6,1.8,2,2.2,2.4,2.6,2.8,3],"tickSize":-4,"labels":false,"domain":false,"title":null}},"y":{"field":"y1","type":"quantitative","axis":null},"y2":{"field":"y2"}}},
{"data":{"name":"info"},"transform":[{"filter":"datum.p==2"}],"mark":{"type":"text","align":"left","baseline":"middle","font":"Liberation Serif","fontSize":21,"color":"#c8c8c8"},"encoding":{"text":{"field":"ref"},"x":{"datum":-2,"type":"quantitative","axis":null},"y":{"datum":-0.029,"type":"quantitative","axis":null}}},
{"data":{"name":"info"},"transform":[{"filter":"datum.p==2"}],"mark":{"type":"text","align":"left","baseline":"middle","font":"Liberation Serif","fontSize":21,"color":"#0000ff"},"encoding":{"text":{"field":"name"},"x":{"datum":-2,"type":"quantitative","axis":null},"y":{"datum":0.123,"type":"quantitative","axis":null}}},
{"data":{"name":"info"},"transform":[{"filter":"datum.p==2"}],"mark":{"type":"text","align":"left","baseline":"middle","font":"Liberation Serif","fontSize":21,"color":"#0000ff"},"encoding":{"text":{"field":"feh"},"x":{"datum":-2,"type":"quantitative","axis":null},"y":{"datum":0.276,"type":"quantitative","axis":null}}},
{"data":{"name":"info"},"transform":[{"filter":"datum.p==2"}],"mark":{"type":"text","align":"right","baseline":"middle","font":"Liberation Serif","fontSize":21,"color":"#0000ff"},"encoding":{"text":{"field":"shift"},"x":{"datum":2.91,"type":"quantitative","axis":null},"y":{"datum":0.123,"type":"quantitative","axis":null}}},
{"data":{"name":"info"},"transform":[{"filter":"datum.p==2"}],"mark":{"type":"text","align":"left","baseline":"middle","font":"Liberation Serif","fontSize":21,"color":"black"},"encoding":{"text":{"field":"cat"},"x":{"datum":-1.51,"type":"quantitative","axis":null},"y":{"datum":1.278,"type":"quantitative","axis":null}}}
]},
{"width":455,"height":307,"resolve":{"axis":{"x":"independent","y":"independent"}},"layer":[
{"data":{"name":"hb2808"},"mark":{"type":"point","shape":"diamond","filled":true,"size":30,"color":"#c8c8c8","opacity":1},"encoding":{"x":{"field":"x","type":"quantitative","scale":{"domain":[-2.41,3.21],"nice":false,"zero":false},"axis":{"orient":"bottom","values":[-2,-1,0,1,2,3],"tickSize":-8,"labels":false,"title":null}},"y":{"field":"y","type":"quantitative","scale":{"domain":[-0.2,1.6],"nice":false,"zero":false,"reverse":true},"axis":{"orient":"left","values":[0,0.5,1,1.5],"tickSize":-8,"labels":true,"format":".1f","labelFontSize":27,"labelPadding":16,"title":"C","titleFontStyle":"italic","titleFontSize":31,"titleX":-60,"titleY":284,"titleAngle":270,"titleAlign":"left","titleBaseline":"alphabetic"}}}},
{"data":{"name":"blue"},"transform":[{"filter":"datum.p==3"}],"mark":{"type":"point","shape":"diamond","filled":false,"size":85,"color":"#0000ff","strokeWidth":1,"opacity":1},"encoding":{"x":{"field":"x","type":"quantitative","axis":{"orient":"top","values":[-2,-1,0,1,2,3],"tickSize":-8,"labels":false,"title":null}},"y":{"field":"y","type":"quantitative","axis":{"orient":"right","values":[0,0.5,1,1.5],"tickSize":-8,"labels":false,"title":null}}}},
{"data":{"name":"err"},"transform":[{"filter":"datum.p==3"}],"mark":{"type":"rule","color":"#0000ff","strokeWidth":1},"encoding":{"x":{"field":"x1","type":"quantitative","axis":{"orient":"bottom","values":[-2.4,-2.2,-2,-1.8,-1.6,-1.4,-1.2,-1,-0.8,-0.6,-0.4,-0.2,0,0.2,0.4,0.6,0.8,1,1.2,1.4,1.6,1.8,2,2.2,2.4,2.6,2.8,3,3.2],"tickSize":-4,"labels":false,"domain":false,"title":null}},"x2":{"field":"x2"},"y":{"field":"y","type":"quantitative","axis":{"orient":"left","values":[-0.1,0,0.1,0.2,0.3,0.4,0.5,0.6,0.7,0.8,0.9,1,1.1,1.2,1.3,1.4,1.5],"tickSize":-4,"labels":false,"domain":false,"title":"F275W,F336W,F438W","titleFontSize":17.5,"titleX":-62,"titleY":247,"titleAngle":270,"titleAlign":"left","titleBaseline":"alphabetic"}}}},
{"data":{"name":"err"},"transform":[{"filter":"datum.p==3"}],"mark":{"type":"rule","color":"#0000ff","strokeWidth":1},"encoding":{"x":{"field":"x","type":"quantitative","axis":{"orient":"top","values":[-2.4,-2.2,-2,-1.8,-1.6,-1.4,-1.2,-1,-0.8,-0.6,-0.4,-0.2,0,0.2,0.4,0.6,0.8,1,1.2,1.4,1.6,1.8,2,2.2,2.4,2.6,2.8,3,3.2],"tickSize":-4,"labels":false,"domain":false,"title":null}},"y":{"field":"y1","type":"quantitative","axis":{"orient":"right","values":[-0.1,0,0.1,0.2,0.3,0.4,0.5,0.6,0.7,0.8,0.9,1,1.1,1.2,1.3,1.4,1.5],"tickSize":-4,"labels":false,"domain":false,"title":null}},"y2":{"field":"y2"}}},
{"data":{"name":"info"},"transform":[{"filter":"datum.p==3"}],"mark":{"type":"text","align":"left","baseline":"middle","font":"Liberation Serif","fontSize":21,"color":"#c8c8c8"},"encoding":{"text":{"field":"ref"},"x":{"datum":-2,"type":"quantitative","axis":null},"y":{"datum":-0.029,"type":"quantitative","axis":{"orient":"left","ticks":false,"labels":false,"domain":false,"title":"(mag)","titleFontSize":28,"titleX":-60,"titleY":82,"titleAngle":270,"titleAlign":"left","titleBaseline":"alphabetic"}}}},
{"data":{"name":"info"},"transform":[{"filter":"datum.p==3"}],"mark":{"type":"text","align":"left","baseline":"middle","font":"Liberation Serif","fontSize":21,"color":"#0000ff"},"encoding":{"text":{"field":"name"},"x":{"datum":-2,"type":"quantitative","axis":null},"y":{"datum":0.123,"type":"quantitative","axis":null}}},
{"data":{"name":"info"},"transform":[{"filter":"datum.p==3"}],"mark":{"type":"text","align":"left","baseline":"middle","font":"Liberation Serif","fontSize":21,"color":"#0000ff"},"encoding":{"text":{"field":"feh"},"x":{"datum":-2,"type":"quantitative","axis":null},"y":{"datum":0.276,"type":"quantitative","axis":null}}},
{"data":{"name":"info"},"transform":[{"filter":"datum.p==3"}],"mark":{"type":"text","align":"right","baseline":"middle","font":"Liberation Serif","fontSize":21,"color":"#0000ff"},"encoding":{"text":{"field":"shift"},"x":{"datum":2.91,"type":"quantitative","axis":null},"y":{"datum":0.123,"type":"quantitative","axis":null}}},
{"data":{"name":"info"},"transform":[{"filter":"datum.p==3"}],"mark":{"type":"text","align":"left","baseline":"middle","font":"Liberation Serif","fontSize":21,"color":"black"},"encoding":{"text":{"field":"cat"},"x":{"datum":-1.51,"type":"quantitative","axis":null},"y":{"datum":1.278,"type":"quantitative","axis":null}}}
]},
{"width":446,"height":307,"resolve":{"axis":{"x":"independent","y":"independent"}},"layer":[
{"data":{"name":"hb2808"},"mark":{"type":"point","shape":"diamond","filled":true,"size":30,"color":"#c8c8c8","opacity":1},"encoding":{"x":{"field":"x","type":"quantitative","scale":{"domain":[-2.41,3.1],"nice":false,"zero":false},"axis":{"orient":"bottom","values":[-2,-1,0,1,2,3],"tickSize":-8,"labels":false,"title":null}},"y":{"field":"y","type":"quantitative","scale":{"domain":[-0.2,1.6],"nice":false,"zero":false,"reverse":true},"axis":{"orient":"left","values":[0,0.5,1,1.5],"tickSize":-8,"labels":false,"title":null}}}},
{"data":{"name":"blue"},"transform":[{"filter":"datum.p==4"}],"mark":{"type":"point","shape":"diamond","filled":false,"size":85,"color":"#0000ff","strokeWidth":1,"opacity":1},"encoding":{"x":{"field":"x","type":"quantitative","axis":{"orient":"top","values":[-2,-1,0,1,2,3],"tickSize":-8,"labels":false,"title":null}},"y":{"field":"y","type":"quantitative","axis":null}}},
{"data":{"name":"err"},"transform":[{"filter":"datum.p==4"}],"mark":{"type":"rule","color":"#0000ff","strokeWidth":1},"encoding":{"x":{"field":"x1","type":"quantitative","axis":{"orient":"bottom","values":[-2.4,-2.2,-2,-1.8,-1.6,-1.4,-1.2,-1,-0.8,-0.6,-0.4,-0.2,0,0.2,0.4,0.6,0.8,1,1.2,1.4,1.6,1.8,2,2.2,2.4,2.6,2.8,3],"tickSize":-4,"labels":false,"domain":false,"title":null}},"x2":{"field":"x2"},"y":{"field":"y","type":"quantitative","axis":{"orient":"left","values":[-0.1,0,0.1,0.2,0.3,0.4,0.5,0.6,0.7,0.8,0.9,1,1.1,1.2,1.3,1.4,1.5],"tickSize":-4,"labels":false,"domain":false,"title":null}}}},
{"data":{"name":"err"},"transform":[{"filter":"datum.p==4"}],"mark":{"type":"rule","color":"#0000ff","strokeWidth":1},"encoding":{"x":{"field":"x","type":"quantitative","axis":{"orient":"top","values":[-2.4,-2.2,-2,-1.8,-1.6,-1.4,-1.2,-1,-0.8,-0.6,-0.4,-0.2,0,0.2,0.4,0.6,0.8,1,1.2,1.4,1.6,1.8,2,2.2,2.4,2.6,2.8,3],"tickSize":-4,"labels":false,"domain":false,"title":null}},"y":{"field":"y1","type":"quantitative","axis":null},"y2":{"field":"y2"}}},
{"data":{"name":"info"},"transform":[{"filter":"datum.p==4"}],"mark":{"type":"text","align":"left","baseline":"middle","font":"Liberation Serif","fontSize":21,"color":"#c8c8c8"},"encoding":{"text":{"field":"ref"},"x":{"datum":-2,"type":"quantitative","axis":null},"y":{"datum":-0.029,"type":"quantitative","axis":null}}},
{"data":{"name":"info"},"transform":[{"filter":"datum.p==4"}],"mark":{"type":"text","align":"left","baseline":"middle","font":"Liberation Serif","fontSize":21,"color":"#0000ff"},"encoding":{"text":{"field":"name"},"x":{"datum":-2,"type":"quantitative","axis":null},"y":{"datum":0.123,"type":"quantitative","axis":null}}},
{"data":{"name":"info"},"transform":[{"filter":"datum.p==4"}],"mark":{"type":"text","align":"left","baseline":"middle","font":"Liberation Serif","fontSize":21,"color":"#0000ff"},"encoding":{"text":{"field":"feh"},"x":{"datum":-2,"type":"quantitative","axis":null},"y":{"datum":0.276,"type":"quantitative","axis":null}}},
{"data":{"name":"info"},"transform":[{"filter":"datum.p==4"}],"mark":{"type":"text","align":"right","baseline":"middle","font":"Liberation Serif","fontSize":21,"color":"#0000ff"},"encoding":{"text":{"field":"shift"},"x":{"datum":2.91,"type":"quantitative","axis":null},"y":{"datum":0.123,"type":"quantitative","axis":null}}},
{"data":{"name":"info"},"transform":[{"filter":"datum.p==4"}],"mark":{"type":"text","align":"left","baseline":"middle","font":"Liberation Serif","fontSize":21,"color":"black"},"encoding":{"text":{"field":"cat"},"x":{"datum":-1.51,"type":"quantitative","axis":null},"y":{"datum":1.278,"type":"quantitative","axis":null}}}
]},
{"width":455,"height":307,"resolve":{"axis":{"x":"independent","y":"independent"}},"layer":[
{"data":{"name":"hb2808"},"mark":{"type":"point","shape":"diamond","filled":true,"size":30,"color":"#c8c8c8","opacity":1},"encoding":{"x":{"field":"x","type":"quantitative","scale":{"domain":[-2.41,3.21],"nice":false,"zero":false},"axis":{"orient":"bottom","values":[-2,-1,0,1,2,3],"tickSize":-8,"labels":false,"title":null}},"y":{"field":"y","type":"quantitative","scale":{"domain":[-0.2,1.6],"nice":false,"zero":false,"reverse":true},"axis":{"orient":"left","values":[0,0.5,1,1.5],"tickSize":-8,"labels":true,"format":".1f","labelFontSize":27,"labelPadding":16,"title":"C","titleFontStyle":"italic","titleFontSize":31,"titleX":-60,"titleY":284,"titleAngle":270,"titleAlign":"left","titleBaseline":"alphabetic"}}}},
{"data":{"name":"blue"},"transform":[{"filter":"datum.p==5"}],"mark":{"type":"point","shape":"diamond","filled":false,"size":85,"color":"#0000ff","strokeWidth":1,"opacity":1},"encoding":{"x":{"field":"x","type":"quantitative","axis":{"orient":"top","values":[-2,-1,0,1,2,3],"tickSize":-8,"labels":false,"title":null}},"y":{"field":"y","type":"quantitative","axis":{"orient":"right","values":[0,0.5,1,1.5],"tickSize":-8,"labels":false,"title":null}}}},
{"data":{"name":"err"},"transform":[{"filter":"datum.p==5"}],"mark":{"type":"rule","color":"#0000ff","strokeWidth":1},"encoding":{"x":{"field":"x1","type":"quantitative","axis":{"orient":"bottom","values":[-2.4,-2.2,-2,-1.8,-1.6,-1.4,-1.2,-1,-0.8,-0.6,-0.4,-0.2,0,0.2,0.4,0.6,0.8,1,1.2,1.4,1.6,1.8,2,2.2,2.4,2.6,2.8,3,3.2],"tickSize":-4,"labels":false,"domain":false,"title":null}},"x2":{"field":"x2"},"y":{"field":"y","type":"quantitative","axis":{"orient":"left","values":[-0.1,0,0.1,0.2,0.3,0.4,0.5,0.6,0.7,0.8,0.9,1,1.1,1.2,1.3,1.4,1.5],"tickSize":-4,"labels":false,"domain":false,"title":"F275W,F336W,F438W","titleFontSize":17.5,"titleX":-62,"titleY":247,"titleAngle":270,"titleAlign":"left","titleBaseline":"alphabetic"}}}},
{"data":{"name":"err"},"transform":[{"filter":"datum.p==5"}],"mark":{"type":"rule","color":"#0000ff","strokeWidth":1},"encoding":{"x":{"field":"x","type":"quantitative","axis":{"orient":"top","values":[-2.4,-2.2,-2,-1.8,-1.6,-1.4,-1.2,-1,-0.8,-0.6,-0.4,-0.2,0,0.2,0.4,0.6,0.8,1,1.2,1.4,1.6,1.8,2,2.2,2.4,2.6,2.8,3,3.2],"tickSize":-4,"labels":false,"domain":false,"title":null}},"y":{"field":"y1","type":"quantitative","axis":{"orient":"right","values":[-0.1,0,0.1,0.2,0.3,0.4,0.5,0.6,0.7,0.8,0.9,1,1.1,1.2,1.3,1.4,1.5],"tickSize":-4,"labels":false,"domain":false,"title":null}},"y2":{"field":"y2"}}},
{"data":{"name":"info"},"transform":[{"filter":"datum.p==5"}],"mark":{"type":"text","align":"left","baseline":"middle","font":"Liberation Serif","fontSize":21,"color":"#c8c8c8"},"encoding":{"text":{"field":"ref"},"x":{"datum":-2,"type":"quantitative","axis":null},"y":{"datum":-0.029,"type":"quantitative","axis":{"orient":"left","ticks":false,"labels":false,"domain":false,"title":"(mag)","titleFontSize":28,"titleX":-60,"titleY":82,"titleAngle":270,"titleAlign":"left","titleBaseline":"alphabetic"}}}},
{"data":{"name":"info"},"transform":[{"filter":"datum.p==5"}],"mark":{"type":"text","align":"left","baseline":"middle","font":"Liberation Serif","fontSize":21,"color":"#0000ff"},"encoding":{"text":{"field":"name"},"x":{"datum":-2,"type":"quantitative","axis":null},"y":{"datum":0.123,"type":"quantitative","axis":null}}},
{"data":{"name":"info"},"transform":[{"filter":"datum.p==5"}],"mark":{"type":"text","align":"left","baseline":"middle","font":"Liberation Serif","fontSize":21,"color":"#0000ff"},"encoding":{"text":{"field":"feh"},"x":{"datum":-2,"type":"quantitative","axis":null},"y":{"datum":0.276,"type":"quantitative","axis":null}}},
{"data":{"name":"info"},"transform":[{"filter":"datum.p==5"}],"mark":{"type":"text","align":"right","baseline":"middle","font":"Liberation Serif","fontSize":21,"color":"#0000ff"},"encoding":{"text":{"field":"shift"},"x":{"datum":2.91,"type":"quantitative","axis":null},"y":{"datum":0.123,"type":"quantitative","axis":null}}},
{"data":{"name":"info"},"transform":[{"filter":"datum.p==5"}],"mark":{"type":"text","align":"left","baseline":"middle","font":"Liberation Serif","fontSize":21,"color":"black"},"encoding":{"text":{"field":"cat"},"x":{"datum":-1.51,"type":"quantitative","axis":null},"y":{"datum":1.278,"type":"quantitative","axis":null}}}
]},
{"width":446,"height":307,"resolve":{"axis":{"x":"independent","y":"independent"}},"layer":[
{"data":{"name":"hb2808"},"mark":{"type":"point","shape":"diamond","filled":true,"size":30,"color":"#c8c8c8","opacity":1},"encoding":{"x":{"field":"x","type":"quantitative","scale":{"domain":[-2.41,3.1],"nice":false,"zero":false},"axis":{"orient":"bottom","values":[-2,-1,0,1,2,3],"tickSize":-8,"labels":false,"title":null}},"y":{"field":"y","type":"quantitative","scale":{"domain":[-0.2,1.6],"nice":false,"zero":false,"reverse":true},"axis":{"orient":"left","values":[0,0.5,1,1.5],"tickSize":-8,"labels":false,"title":null}}}},
{"data":{"name":"blue"},"transform":[{"filter":"datum.p==6"}],"mark":{"type":"point","shape":"diamond","filled":false,"size":85,"color":"#0000ff","strokeWidth":1,"opacity":1},"encoding":{"x":{"field":"x","type":"quantitative","axis":{"orient":"top","values":[-2,-1,0,1,2,3],"tickSize":-8,"labels":false,"title":null}},"y":{"field":"y","type":"quantitative","axis":null}}},
{"data":{"name":"err"},"transform":[{"filter":"datum.p==6"}],"mark":{"type":"rule","color":"#0000ff","strokeWidth":1},"encoding":{"x":{"field":"x1","type":"quantitative","axis":{"orient":"bottom","values":[-2.4,-2.2,-2,-1.8,-1.6,-1.4,-1.2,-1,-0.8,-0.6,-0.4,-0.2,0,0.2,0.4,0.6,0.8,1,1.2,1.4,1.6,1.8,2,2.2,2.4,2.6,2.8,3],"tickSize":-4,"labels":false,"domain":false,"title":null}},"x2":{"field":"x2"},"y":{"field":"y","type":"quantitative","axis":{"orient":"left","values":[-0.1,0,0.1,0.2,0.3,0.4,0.5,0.6,0.7,0.8,0.9,1,1.1,1.2,1.3,1.4,1.5],"tickSize":-4,"labels":false,"domain":false,"title":null}}}},
{"data":{"name":"err"},"transform":[{"filter":"datum.p==6"}],"mark":{"type":"rule","color":"#0000ff","strokeWidth":1},"encoding":{"x":{"field":"x","type":"quantitative","axis":{"orient":"top","values":[-2.4,-2.2,-2,-1.8,-1.6,-1.4,-1.2,-1,-0.8,-0.6,-0.4,-0.2,0,0.2,0.4,0.6,0.8,1,1.2,1.4,1.6,1.8,2,2.2,2.4,2.6,2.8,3],"tickSize":-4,"labels":false,"domain":false,"title":null}},"y":{"field":"y1","type":"quantitative","axis":null},"y2":{"field":"y2"}}},
{"data":{"name":"info"},"transform":[{"filter":"datum.p==6"}],"mark":{"type":"text","align":"left","baseline":"middle","font":"Liberation Serif","fontSize":21,"color":"#c8c8c8"},"encoding":{"text":{"field":"ref"},"x":{"datum":-2,"type":"quantitative","axis":null},"y":{"datum":-0.029,"type":"quantitative","axis":null}}},
{"data":{"name":"info"},"transform":[{"filter":"datum.p==6"}],"mark":{"type":"text","align":"left","baseline":"middle","font":"Liberation Serif","fontSize":21,"color":"#0000ff"},"encoding":{"text":{"field":"name"},"x":{"datum":-2,"type":"quantitative","axis":null},"y":{"datum":0.123,"type":"quantitative","axis":null}}},
{"data":{"name":"info"},"transform":[{"filter":"datum.p==6"}],"mark":{"type":"text","align":"left","baseline":"middle","font":"Liberation Serif","fontSize":21,"color":"#0000ff"},"encoding":{"text":{"field":"feh"},"x":{"datum":-2,"type":"quantitative","axis":null},"y":{"datum":0.276,"type":"quantitative","axis":null}}},
{"data":{"name":"info"},"transform":[{"filter":"datum.p==6"}],"mark":{"type":"text","align":"right","baseline":"middle","font":"Liberation Serif","fontSize":21,"color":"#0000ff"},"encoding":{"text":{"field":"shift"},"x":{"datum":2.91,"type":"quantitative","axis":null},"y":{"datum":0.123,"type":"quantitative","axis":null}}},
{"data":{"name":"info"},"transform":[{"filter":"datum.p==6"}],"mark":{"type":"text","align":"left","baseline":"middle","font":"Liberation Serif","fontSize":21,"color":"black"},"encoding":{"text":{"field":"cat"},"x":{"datum":-1.51,"type":"quantitative","axis":null},"y":{"datum":1.278,"type":"quantitative","axis":null}}}
]},
{"width":455,"height":307,"resolve":{"axis":{"x":"independent","y":"independent"}},"layer":[
{"data":{"name":"hb2808"},"mark":{"type":"point","shape":"diamond","filled":true,"size":30,"color":"#c8c8c8","opacity":1},"encoding":{"x":{"field":"x","type":"quantitative","scale":{"domain":[-2.41,3.21],"nice":false,"zero":false},"axis":{"orient":"bottom","values":[-2,-1,0,1,2,3],"tickSize":-8,"labels":true,"labelExpr":"toString(datum.value)","labelFontSize":27,"labelPadding":23,"labelFlush":false,"title":"m","titleFontStyle":"italic","titleFontSize":29,"titleX":105,"titleY":67,"titleAngle":0,"titleAlign":"left","titleBaseline":"alphabetic"}},"y":{"field":"y","type":"quantitative","scale":{"domain":[-0.2,1.6],"nice":false,"zero":false,"reverse":true},"axis":{"orient":"left","values":[0,0.5,1,1.5],"tickSize":-8,"labels":true,"format":".1f","labelFontSize":27,"labelPadding":16,"title":"C","titleFontStyle":"italic","titleFontSize":31,"titleX":-60,"titleY":284,"titleAngle":270,"titleAlign":"left","titleBaseline":"alphabetic"}}}},
{"data":{"name":"blue"},"transform":[{"filter":"datum.p==7"}],"mark":{"type":"point","shape":"diamond","filled":false,"size":85,"color":"#0000ff","strokeWidth":1,"opacity":1},"encoding":{"x":{"field":"x","type":"quantitative","axis":{"orient":"top","values":[-2,-1,0,1,2,3],"tickSize":-8,"labels":false,"title":null}},"y":{"field":"y","type":"quantitative","axis":{"orient":"right","values":[0,0.5,1,1.5],"tickSize":-8,"labels":false,"title":null}}}},
{"data":{"name":"err"},"transform":[{"filter":"datum.p==7"}],"mark":{"type":"rule","color":"#0000ff","strokeWidth":1},"encoding":{"x":{"field":"x1","type":"quantitative","axis":{"orient":"bottom","values":[-2.4,-2.2,-2,-1.8,-1.6,-1.4,-1.2,-1,-0.8,-0.6,-0.4,-0.2,0,0.2,0.4,0.6,0.8,1,1.2,1.4,1.6,1.8,2,2.2,2.4,2.6,2.8,3,3.2],"tickSize":-4,"labels":false,"domain":false,"title":"F275W","titleFontSize":17,"titleX":127,"titleY":72,"titleAngle":0,"titleAlign":"left","titleBaseline":"alphabetic"}},"x2":{"field":"x2"},"y":{"field":"y","type":"quantitative","axis":{"orient":"left","values":[-0.1,0,0.1,0.2,0.3,0.4,0.5,0.6,0.7,0.8,0.9,1,1.1,1.2,1.3,1.4,1.5],"tickSize":-4,"labels":false,"domain":false,"title":"F275W,F336W,F438W","titleFontSize":17.5,"titleX":-62,"titleY":247,"titleAngle":270,"titleAlign":"left","titleBaseline":"alphabetic"}}}},
{"data":{"name":"err"},"transform":[{"filter":"datum.p==7"}],"mark":{"type":"rule","color":"#0000ff","strokeWidth":1},"encoding":{"x":{"field":"x","type":"quantitative","axis":{"orient":"top","values":[-2.4,-2.2,-2,-1.8,-1.6,-1.4,-1.2,-1,-0.8,-0.6,-0.4,-0.2,0,0.2,0.4,0.6,0.8,1,1.2,1.4,1.6,1.8,2,2.2,2.4,2.6,2.8,3,3.2],"tickSize":-4,"labels":false,"domain":false,"title":null}},"y":{"field":"y1","type":"quantitative","axis":{"orient":"right","values":[-0.1,0,0.1,0.2,0.3,0.4,0.5,0.6,0.7,0.8,0.9,1,1.1,1.2,1.3,1.4,1.5],"tickSize":-4,"labels":false,"domain":false,"title":null}},"y2":{"field":"y2"}}},
{"data":{"name":"info"},"transform":[{"filter":"datum.p==7"}],"mark":{"type":"text","align":"left","baseline":"middle","font":"Liberation Serif","fontSize":21,"color":"#c8c8c8"},"encoding":{"text":{"field":"ref"},"x":{"datum":-2,"type":"quantitative","axis":{"orient":"bottom","ticks":false,"labels":false,"domain":false,"title":"-","titleFontSize":29,"titleX":184,"titleY":67,"titleAngle":0,"titleAlign":"left","titleBaseline":"alphabetic"}},"y":{"datum":-0.029,"type":"quantitative","axis":{"orient":"left","ticks":false,"labels":false,"domain":false,"title":"(mag)","titleFontSize":28,"titleX":-60,"titleY":82,"titleAngle":270,"titleAlign":"left","titleBaseline":"alphabetic"}}}},
{"data":{"name":"info"},"transform":[{"filter":"datum.p==7"}],"mark":{"type":"text","align":"left","baseline":"middle","font":"Liberation Serif","fontSize":21,"color":"#0000ff"},"encoding":{"text":{"field":"name"},"x":{"datum":-2,"type":"quantitative","axis":{"orient":"bottom","ticks":false,"labels":false,"domain":false,"title":"m","titleFontStyle":"italic","titleFontSize":29,"titleX":201,"titleY":67,"titleAngle":0,"titleAlign":"left","titleBaseline":"alphabetic"}},"y":{"datum":0.123,"type":"quantitative","axis":null}}},
{"data":{"name":"info"},"transform":[{"filter":"datum.p==7"}],"mark":{"type":"text","align":"left","baseline":"middle","font":"Liberation Serif","fontSize":21,"color":"#0000ff"},"encoding":{"text":{"field":"feh"},"x":{"datum":-2,"type":"quantitative","axis":{"orient":"bottom","ticks":false,"labels":false,"domain":false,"title":"F438W","titleFontSize":17,"titleX":223,"titleY":72,"titleAngle":0,"titleAlign":"left","titleBaseline":"alphabetic"}},"y":{"datum":0.276,"type":"quantitative","axis":null}}},
{"data":{"name":"info"},"transform":[{"filter":"datum.p==7"}],"mark":{"type":"text","align":"right","baseline":"middle","font":"Liberation Serif","fontSize":21,"color":"#0000ff"},"encoding":{"text":{"field":"shift"},"x":{"datum":2.91,"type":"quantitative","axis":{"orient":"bottom","ticks":false,"labels":false,"domain":false,"title":"(mag)","titleFontSize":29,"titleX":286,"titleY":67,"titleAngle":0,"titleAlign":"left","titleBaseline":"alphabetic"}},"y":{"datum":0.123,"type":"quantitative","axis":null}}},
{"data":{"name":"info"},"transform":[{"filter":"datum.p==7"}],"mark":{"type":"text","align":"left","baseline":"middle","font":"Liberation Serif","fontSize":21,"color":"black"},"encoding":{"text":{"field":"cat"},"x":{"datum":-1.51,"type":"quantitative","axis":null},"y":{"datum":1.278,"type":"quantitative","axis":null}}}
]},
{"width":446,"height":307,"resolve":{"axis":{"x":"independent","y":"independent"}},"layer":[
{"data":{"name":"hb2808"},"mark":{"type":"point","shape":"diamond","filled":true,"size":30,"color":"#c8c8c8","opacity":1},"encoding":{"x":{"field":"x","type":"quantitative","scale":{"domain":[-2.41,3.1],"nice":false,"zero":false},"axis":{"orient":"bottom","values":[-2,-1,0,1,2,3],"tickSize":-8,"labels":true,"labelExpr":"toString(datum.value)","labelFontSize":27,"labelPadding":23,"labelFlush":false,"title":"m","titleFontStyle":"italic","titleFontSize":29,"titleX":105,"titleY":67,"titleAngle":0,"titleAlign":"left","titleBaseline":"alphabetic"}},"y":{"field":"y","type":"quantitative","scale":{"domain":[-0.2,1.6],"nice":false,"zero":false,"reverse":true},"axis":{"orient":"left","values":[0,0.5,1,1.5],"tickSize":-8,"labels":false,"title":null}}}},
{"data":{"name":"blue"},"transform":[{"filter":"datum.p==8"}],"mark":{"type":"point","shape":"diamond","filled":false,"size":85,"color":"#0000ff","strokeWidth":1,"opacity":1},"encoding":{"x":{"field":"x","type":"quantitative","axis":{"orient":"top","values":[-2,-1,0,1,2,3],"tickSize":-8,"labels":false,"title":null}},"y":{"field":"y","type":"quantitative","axis":null}}},
{"data":{"name":"err"},"transform":[{"filter":"datum.p==8"}],"mark":{"type":"rule","color":"#0000ff","strokeWidth":1},"encoding":{"x":{"field":"x1","type":"quantitative","axis":{"orient":"bottom","values":[-2.4,-2.2,-2,-1.8,-1.6,-1.4,-1.2,-1,-0.8,-0.6,-0.4,-0.2,0,0.2,0.4,0.6,0.8,1,1.2,1.4,1.6,1.8,2,2.2,2.4,2.6,2.8,3],"tickSize":-4,"labels":false,"domain":false,"title":"F275W","titleFontSize":17,"titleX":127,"titleY":72,"titleAngle":0,"titleAlign":"left","titleBaseline":"alphabetic"}},"x2":{"field":"x2"},"y":{"field":"y","type":"quantitative","axis":{"orient":"left","values":[-0.1,0,0.1,0.2,0.3,0.4,0.5,0.6,0.7,0.8,0.9,1,1.1,1.2,1.3,1.4,1.5],"tickSize":-4,"labels":false,"domain":false,"title":null}}}},
{"data":{"name":"err"},"transform":[{"filter":"datum.p==8"}],"mark":{"type":"rule","color":"#0000ff","strokeWidth":1},"encoding":{"x":{"field":"x","type":"quantitative","axis":{"orient":"top","values":[-2.4,-2.2,-2,-1.8,-1.6,-1.4,-1.2,-1,-0.8,-0.6,-0.4,-0.2,0,0.2,0.4,0.6,0.8,1,1.2,1.4,1.6,1.8,2,2.2,2.4,2.6,2.8,3],"tickSize":-4,"labels":false,"domain":false,"title":null}},"y":{"field":"y1","type":"quantitative","axis":null},"y2":{"field":"y2"}}},
{"data":{"name":"info"},"transform":[{"filter":"datum.p==8"}],"mark":{"type":"text","align":"left","baseline":"middle","font":"Liberation Serif","fontSize":21,"color":"#c8c8c8"},"encoding":{"text":{"field":"ref"},"x":{"datum":-2,"type":"quantitative","axis":{"orient":"bottom","ticks":false,"labels":false,"domain":false,"title":"-","titleFontSize":29,"titleX":184,"titleY":67,"titleAngle":0,"titleAlign":"left","titleBaseline":"alphabetic"}},"y":{"datum":-0.029,"type":"quantitative","axis":null}}},
{"data":{"name":"info"},"transform":[{"filter":"datum.p==8"}],"mark":{"type":"text","align":"left","baseline":"middle","font":"Liberation Serif","fontSize":21,"color":"#0000ff"},"encoding":{"text":{"field":"name"},"x":{"datum":-2,"type":"quantitative","axis":{"orient":"bottom","ticks":false,"labels":false,"domain":false,"title":"m","titleFontStyle":"italic","titleFontSize":29,"titleX":201,"titleY":67,"titleAngle":0,"titleAlign":"left","titleBaseline":"alphabetic"}},"y":{"datum":0.123,"type":"quantitative","axis":null}}},
{"data":{"name":"info"},"transform":[{"filter":"datum.p==8"}],"mark":{"type":"text","align":"left","baseline":"middle","font":"Liberation Serif","fontSize":21,"color":"#0000ff"},"encoding":{"text":{"field":"feh"},"x":{"datum":-2,"type":"quantitative","axis":{"orient":"bottom","ticks":false,"labels":false,"domain":false,"title":"F438W","titleFontSize":17,"titleX":223,"titleY":72,"titleAngle":0,"titleAlign":"left","titleBaseline":"alphabetic"}},"y":{"datum":0.276,"type":"quantitative","axis":null}}},
{"data":{"name":"info"},"transform":[{"filter":"datum.p==8"}],"mark":{"type":"text","align":"right","baseline":"middle","font":"Liberation Serif","fontSize":21,"color":"#0000ff"},"encoding":{"text":{"field":"shift"},"x":{"datum":2.91,"type":"quantitative","axis":{"orient":"bottom","ticks":false,"labels":false,"domain":false,"title":"(mag)","titleFontSize":29,"titleX":286,"titleY":67,"titleAngle":0,"titleAlign":"left","titleBaseline":"alphabetic"}},"y":{"datum":0.123,"type":"quantitative","axis":null}}},
{"data":{"name":"info"},"transform":[{"filter":"datum.p==8"}],"mark":{"type":"text","align":"left","baseline":"middle","font":"Liberation Serif","fontSize":21,"color":"black"},"encoding":{"text":{"field":"cat"},"x":{"datum":-1.51,"type":"quantitative","axis":null},"y":{"datum":1.278,"type":"quantitative","axis":null}}}
]}
],
"config":{
"font":"Liberation Serif",
"view":{"stroke":null},
"axis":{"grid":false,"domainColor":"black","domainWidth":1,"tickColor":"black","tickWidth":1,"labelColor":"black","titleColor":"black","labelFont":"Liberation Serif","titleFont":"Liberation Serif","titleFontWeight":"normal","labelFontSize":27,"titleFontSize":29}
}
}
